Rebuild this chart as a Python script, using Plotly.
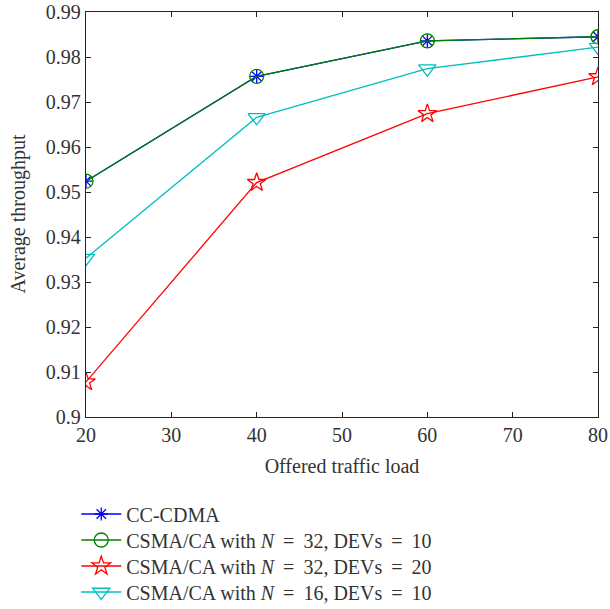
import plotly.graph_objects as go

# Offered traffic load values
load = [20, 40, 60, 80]

# Average throughput per scheme
cc_cdma = [0.9524, 0.9757, 0.9836, 0.9845]
csma_n32_d10 = [0.9524, 0.9757, 0.9836, 0.9845]
csma_n32_d20 = [0.9078, 0.9521, 0.9674, 0.9756]
csma_n16_d10 = [0.9353, 0.9666, 0.9774, 0.9822]

EQ = "\u2009=\u2009"
names = [
    "CC-CDMA",
    f"CSMA/CA with <i>N</i> {EQ} 32, DEVs {EQ} 10",
    f"CSMA/CA with <i>N</i> {EQ} 32, DEVs {EQ} 20",
    f"CSMA/CA with <i>N</i> {EQ} 16, DEVs {EQ} 10",
]

FONT = "Liberation Serif, DejaVu Serif, serif"
TXT = "#333333"

fig = go.Figure()
series = [
    (cc_cdma, names[0], "#0000ff", "asterisk-open", 11),
    (csma_n32_d10, names[1], "#008000", "circle-open", 14),
    (csma_n32_d20, names[2], "#ff0000", "star-open", 14),
    (csma_n16_d10, names[3], "#00bfbf", "triangle-down-open", 15),
]
legend_ids = ["legend", "legend2", "legend3", "legend4"]
for (ys, nm, col, sym, sz), lid in zip(series, legend_ids):
    fig.add_trace(go.Scatter(
        x=load, y=ys, name=nm, mode="lines+markers", legend=lid, showlegend=True,
        line=dict(color=col, width=1.3),
        marker=dict(symbol=sym, size=sz, color=col, line=dict(color=col, width=1.3)),
    ))

axis_common = dict(
    showline=True, linecolor="#222", linewidth=1.3, mirror="ticks",
    ticks="inside", ticklen=5, tickwidth=1.3, tickcolor="#222",
    showgrid=False, zeroline=False, automargin=False,
    tickfont=dict(family=FONT, size=20, color=TXT),
    title_font=dict(family=FONT, size=20, color=TXT),
)

fig.update_xaxes(range=[20, 80], dtick=10, title_text="Offered traffic load",
                 title_standoff=13, **axis_common)
fig.update_yaxes(range=[0.9, 0.99], dtick=0.01, **axis_common)

# y-axis title placed as a rotated annotation left of the tick labels
fig.add_annotation(
    text="Average throughput", textangle=-90,
    xref="paper", yref="paper", x=-0.1328, y=0.5,
    xanchor="center", yanchor="middle", showarrow=False,
    font=dict(family=FONT, size=20, color=TXT),
)

# one legend box per entry, stacked below the axes
legend_rows = [-0.2395, -0.3037, -0.3679, -0.4321]
legend_style = dict(
    x=-0.019, xanchor="left", yanchor="middle",
    font=dict(family=FONT, size=20, color=TXT),
    itemwidth=40, bgcolor="rgba(0,0,0,0)",
)
layout_legends = {lid: dict(y=yy, **legend_style) for lid, yy in zip(legend_ids, legend_rows)}

fig.update_layout(
    width=610, height=609, showlegend=True,
    margin=dict(l=86, r=12, t=12, b=192, autoexpand=False),
    paper_bgcolor="white", plot_bgcolor="white",
    font=dict(family=FONT, color=TXT),
    **layout_legends,
)

fig.write_html("out.html")
